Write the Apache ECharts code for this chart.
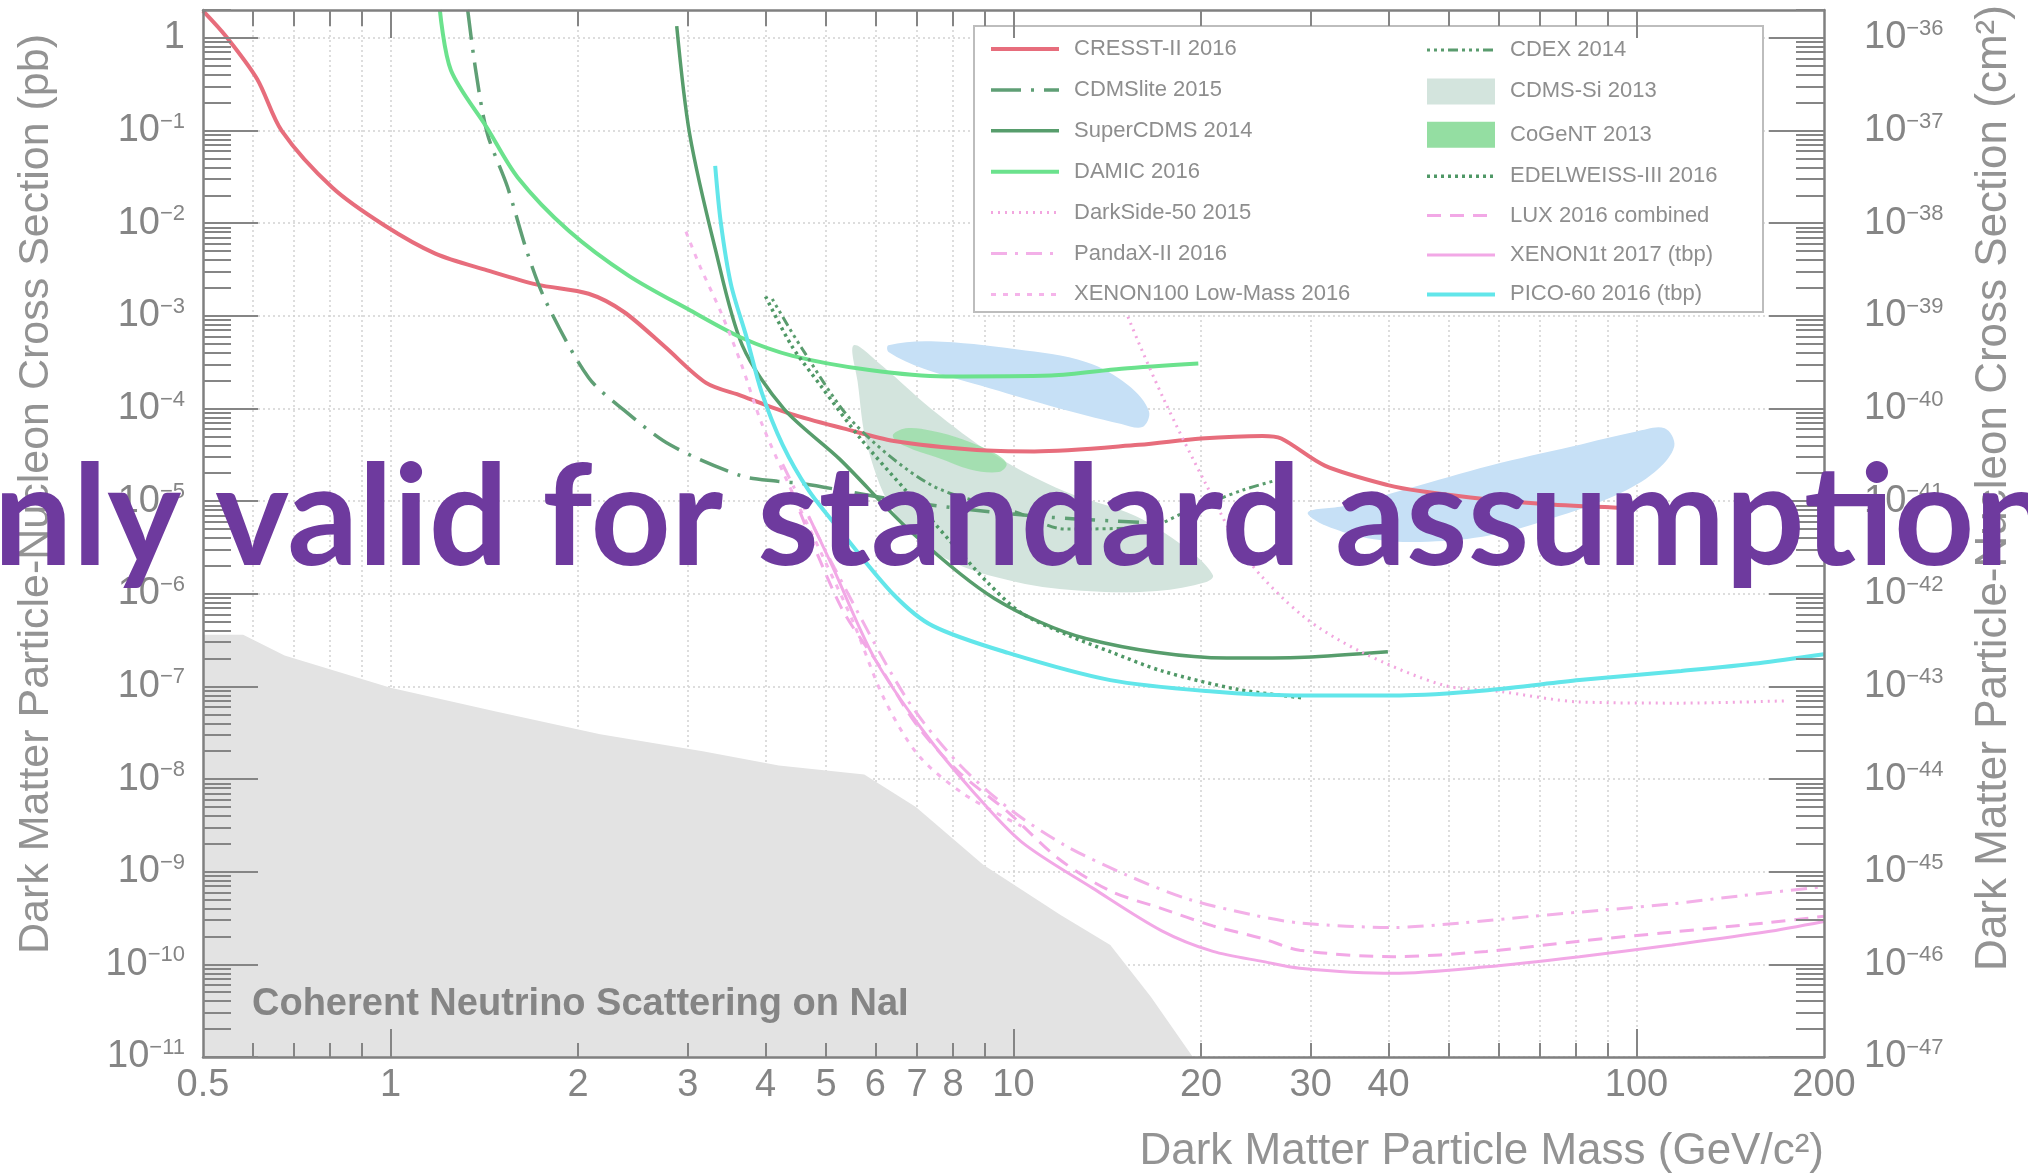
<!DOCTYPE html>
<html>
<head>
<meta charset="utf-8">
<title>Dark matter exclusion limits</title>
<script src="https://cdn.jsdelivr.net/npm/echarts@6.0.0/dist/echarts.min.js"></script>
<style>
  html, body { margin: 0; padding: 0; background: #fff; }
  #chart { width: 2028px; height: 1176px; }
</style>
</head>
<body>
<div id="chart"></div>
<script>
// ---- data: [mass (GeV/c^2), cross section (pb)] ----
const cresst2016 = [[0.5,1.96],[0.545,1.03],[0.611,0.358],[0.669,0.099],[0.807,0.0241],[0.977,0.0095],[1.18,0.0047],[1.43,0.0031],[1.72,0.00217],[2.08,0.00173],[2.37,0.0011],[2.76,4.6e-4],[3.21,1.89e-4],[3.66,1.37e-4],[4.4,8.7e-5],[5.33,6.1e-5],[6.43,4.45e-5],[8.73,3.56e-5],[10.8,3.44e-5],[15.9,4.05e-5],[20,4.74e-5],[25.1,5.06e-5],[26.9,4.74e-5],[31.6,2.42e-5],[39.9,1.49e-5],[45.5,1.27e-5],[57.5,1.05e-5],[73,9.2e-6],[98,8.4e-6]];
const cdmslite2015 = [[1.33,2.0],[1.37,0.448],[1.43,0.093],[1.54,0.0249],[1.66,0.00469],[1.78,0.00138],[2.08,2.15e-4],[2.37,9.6e-5],[2.81,4.05e-5],[3.66,1.87e-5],[4.18,1.64e-5],[4.6,1.54e-5],[7.0,9.5e-6],[10.8,6.9e-6],[15.9,5.9e-6]];
const superCdms2014 = [[2.88,1.34],[3.02,0.093],[3.32,0.00533],[3.67,4.8e-4],[4.28,9.9e-5],[5.26,2.84e-5],[6.84,4.7e-6],[9.33,8.85e-7],[13.1,3.27e-7],[22,2.02e-7],[29.3,2.07e-7],[39.9,2.37e-7]];
const damic2016 = [[1.2,2.0],[1.25,0.448],[1.43,0.106],[1.6,0.0312],[1.93,0.00835],[2.41,0.00272],[3.03,0.00114],[3.66,5.8e-4],[4.42,3.7e-4],[5.87,2.6e-4],[7.78,2.22e-4],[11.5,2.27e-4],[14.9,2.69e-4],[19.8,3.06e-4]];
const darkside2015 = [[14.8,0.0019],[15.3,9.4e-4],[17.4,1.29e-4],[20.4,1.49e-5],[23.7,2.4e-6],[29.1,5.8e-7],[36.1,2.37e-7],[49,1.03e-7],[60.5,8.8e-8],[81,6.8e-8],[118,6.6e-8],[175,7.0e-8]];
const pandax2016 = [[4.26,2.5e-5],[5.16,1.9e-6],[6.71,7.7e-8],[8.1,1.55e-8],[9.8,4.9e-9],[12.1,1.92e-9],[15.2,9.2e-10],[19.0,5.1e-10],[24.3,3.4e-10],[28.8,2.8e-10],[40.7,2.5e-10],[52.4,2.8e-10],[67.9,3.3e-10],[88.3,3.85e-10],[114,4.5e-10],[147,5.5e-10],[200,6.9e-10]];
const xenon100LowMass = [[2.98,0.0081],[3.14,0.0034],[3.39,0.0011],[3.66,2.96e-4],[3.94,7.0e-5],[4.4,1.31e-5],[4.94,2.55e-6],[5.54,4.8e-7],[6.19,7.5e-8],[7.04,1.8e-8],[8.32,6.9e-9],[10.3,3.1e-9]];
const cdex2014 = [[4.1,0.00152],[4.57,4.5e-4],[5.54,7.0e-5],[7.38,1.49e-5],[10.1,7.6e-6],[12.1,5.0e-6],[16.5,5.3e-6],[18.8,7.5e-6],[23.3,1.31e-5],[27,1.75e-5]];
const edelweiss2016 = [[4.0,0.00162],[4.4,4.8e-4],[4.92,1.71e-4],[5.68,4.74e-5],[6.71,1.31e-5],[7.93,3.64e-6],[9.11,1.3e-6],[10.3,6.2e-7],[12.2,3.6e-7],[14.3,2.37e-7],[17.3,1.47e-7],[22.9,9.3e-8],[29.3,7.5e-8]];
const lux2016 = [[4.4,1.31e-5],[5.28,7.3e-7],[6.13,1.56e-7],[7.0,3.8e-8],[8.16,1.2e-8],[9.8,4.4e-9],[11.8,1.39e-9],[14.3,6.2e-10],[17.3,4.0e-10],[20.9,2.6e-10],[25.1,1.9e-10],[28.8,1.42e-10],[40.7,1.21e-10],[57.4,1.38e-10],[81,1.78e-10],[114,2.23e-10],[161,2.8e-10],[200,3.3e-10]];
const xenon1t2017 = [[4.69,6.9e-6],[5.11,2.04e-6],[5.98,2.02e-7],[7.18,3.24e-8],[8.6,7.4e-9],[10.3,2.1e-9],[13.4,6.65e-10],[17.3,2.3e-10],[20.9,1.38e-10],[25.2,1.07e-10],[28.8,9.1e-11],[40.7,8.0e-11],[57.4,9.4e-11],[81,1.21e-10],[114,1.62e-10],[161,2.23e-10],[200,2.9e-10]];
const pico60 = [[3.32,0.0416],[3.39,0.0101],[3.52,0.00217],[3.73,5.8e-4],[3.94,1.51e-4],[4.26,4.05e-5],[4.69,1.31e-5],[5.33,4.4e-6],[6.43,9.7e-7],[7.42,4.5e-7],[9.8,2.3e-7],[14.3,1.17e-7],[20.9,8.8e-8],[28.2,8.0e-8],[41.7,8.0e-8],[57.7,9.1e-8],[81,1.17e-7],[118,1.47e-7],[157,1.78e-7],[200,2.22e-7]];

// closed regions (outline points)
const cdmsSi2013 = [[5.54,4.8e-4],[6.16,2.87e-4],[7.38,9.9e-5],[9.33,3.13e-5],[12.1,1.27e-5],[15.7,6.9e-6],[19.3,2.8e-6],[20.9,1.58e-6],[20.4,1.34e-6],[17.0,1.07e-6],[13.1,1.07e-6],[10.1,1.34e-6],[7.78,2.4e-6],[6.49,6.9e-6],[5.84,3.67e-5],[5.62,1.95e-4]];
const cogent2013 = [[6.4,5.06e-5],[6.71,6.1e-5],[7.38,5.75e-5],[8.32,4.6e-5],[9.38,3.23e-5],[9.75,2.5e-5],[9.47,2.06e-5],[8.52,2.2e-5],[7.56,2.93e-5],[6.71,3.9e-5]];
const damaNa = [[6.3,4.8e-4],[7.38,5.3e-4],[10.1,4.35e-4],[13.1,3.16e-4],[15.3,1.77e-4],[16.5,9.3e-5],[16.1,6.3e-5],[14.9,6.8e-5],[11.5,1.06e-4],[8.85,1.77e-4],[7.18,2.69e-4],[6.3,4.08e-4]];
const damaI = [[29.7,7.6e-6],[34.1,8.9e-6],[42.9,1.36e-5],[58.3,2.42e-5],[79.1,3.9e-5],[99.6,5.6e-5],[111,6.1e-5],[115,3.9e-5],[107,2.06e-5],[92.7,1.16e-5],[73,6.5e-6],[58.3,4.27e-6],[46.3,3.64e-6],[37.9,3.88e-6],[31.6,5.5e-6]];
// neutrino floor (upper edge)
const nuFloorNaI = [[0.5,3.6e-7],[0.58,3.6e-7],[0.676,2.15e-7],[1.0,9.7e-8],[1.47,5.4e-8],[2.17,3.04e-8],[3.17,2.0e-8],[4.2,1.4e-8],[5.76,1.12e-8],[6.97,5.0e-9],[8.94,1.19e-9],[11.9,3.4e-10],[14.3,1.62e-10],[16.6,4.5e-11],[19.4,1e-11]];

// ---- axes ----
const X_MIN = 0.5, X_MAX = 200;
const Y_MIN = 1e-11, Y_MAX = 2;      // pb
const PB_TO_CM2_EXP = -36;           // 1 pb = 1e-36 cm^2 (right axis)
const xLabels = [0.5, 1, 2, 3, 4, 5, 6, 7, 8, 10, 20, 30, 40, 100, 200];
const xMajorTicks = [1, 10, 100];
const xMinorTicks = [0.6, 0.7, 0.8, 0.9, 2, 3, 4, 5, 6, 7, 8, 9, 20, 30, 40, 50, 60, 70, 80, 90];
const xGrid = [0.6, 0.7, 0.8, 0.9, 1, 2, 3, 4, 5, 6, 7, 8, 9, 10, 20, 30, 40, 50, 60, 70, 80, 90, 100];

function decades(lo, hi) {
  const out = [];
  for (let k = lo; k <= hi; k++) out.push(Number('1e' + k));
  return out;
}
function minors(lo, hi, max) {
  const out = [];
  for (let k = lo; k <= hi; k++) {
    for (let j = 2; j <= 9; j++) {
      const v = Number(j + 'e' + k);
      if (v <= max * 1.0001) out.push(v);
    }
  }
  return out;
}
const yMajor = decades(-11, 0);
const yMinor = minors(-11, 0, Y_MAX);

const FONT = "'Liberation Sans', Arial, Helvetica, sans-serif";
const AXIS = '#858585';
const LABEL = '#858585';

function powText(k) {
  if (k === 0) return '1';
  return '10{sup|\u2212' + Math.abs(k) + '}';
}
const leftLabel = v => powText(Math.round(Math.log10(v)));
const rightLabel = v => powText(Math.round(Math.log10(v)) + PB_TO_CM2_EXP);
const labelRich = {
  sup: { fontSize: 22, fontFamily: FONT, color: LABEL, verticalAlign: 'top', lineHeight: 22 }
};

function logAxis(pos, min, max, extra) {
  return Object.assign({
    type: 'log', logBase: 10, position: pos, min: min, max: max,
    axisLine: { show: false }, axisTick: { show: false }, axisLabel: { show: false },
    splitLine: { show: false }, minorTick: { show: false }, minorSplitLine: { show: false },
    silent: true, z: 8
  }, extra);
}
function ticks(values, len) {
  return { show: true, inside: true, length: len, customValues: values, lineStyle: { color: AXIS, width: 2 } };
}
const frameLine = { show: true, onZero: false, lineStyle: { color: '#808080', width: 2.5 } };
const gridLine = { show: true, lineStyle: { color: '#d2d2d2', width: 1.5, type: [2, 3] } };

const xAxes = [
  logAxis('bottom', X_MIN, X_MAX, { axisTick: { show: false, customValues: xGrid }, splitLine: gridLine, z: 0 }),
  logAxis('bottom', X_MIN, X_MAX, {
    axisLine: frameLine, axisTick: ticks(xMajorTicks, 28),
    axisLabel: { show: true, customValues: xLabels, margin: 10, fontSize: 38, fontFamily: FONT, color: LABEL,
      formatter: v => String(Math.round(v * 10) / 10) }
  }),
  logAxis('bottom', X_MIN, X_MAX, { axisTick: ticks(xMinorTicks, 14) }),
  logAxis('top', X_MIN, X_MAX, { axisLine: frameLine, axisTick: ticks(xMajorTicks, 28) }),
  logAxis('top', X_MIN, X_MAX, { axisTick: ticks(xMinorTicks, 16) })
];
const yAxes = [
  logAxis('left', Y_MIN, Y_MAX, { axisTick: { show: false, customValues: yMajor }, splitLine: gridLine, z: 0 }),
  logAxis('left', Y_MIN, Y_MAX, {
    axisLine: frameLine, axisTick: ticks(yMajor, 55),
    axisLabel: { show: true, customValues: yMajor, margin: 18, fontSize: 38, fontFamily: FONT, color: LABEL,
      lineHeight: 40, formatter: leftLabel, rich: labelRich }
  }),
  logAxis('left', Y_MIN, Y_MAX, { axisTick: ticks(yMinor, 28) }),
  // right axis: same scale, labelled in cm^2
  logAxis('right', Y_MIN, Y_MAX, {
    axisLine: frameLine, axisTick: ticks(yMajor, 55),
    axisLabel: { show: true, customValues: yMajor, margin: 40, fontSize: 38, fontFamily: FONT, color: LABEL,
      lineHeight: 40, formatter: rightLabel, rich: labelRich }
  }),
  logAxis('right', Y_MIN, Y_MAX, { axisTick: ticks(yMinor, 28) })
];

// ---- series ----
function limitLine(name, data, color, width, type) {
  return {
    name: name, type: 'line', data: data, symbol: 'none', smooth: 0.3, z: 3, silent: true,
    lineStyle: { color: color, width: width, type: type || 'solid' },
    itemStyle: { color: color, opacity: 0 },   // no marker in the legend
    emphasis: { disabled: true }
  };
}
function region(name, pts, color, opacity) {
  return {
    name: name, type: 'custom', data: pts, z: 2, silent: true, clip: true,
    itemStyle: { color: color, opacity: opacity, borderWidth: 0 },
    renderItem: function (params, api) {
      if (params.dataIndex !== 0) return null;
      const points = pts.map(p => api.coord(p));
      return { type: 'polygon', shape: { points: points, smooth: 0.35 }, style: { fill: color, opacity: opacity } };
    }
  };
}

const series = [
  {
    name: 'Coherent Neutrino Scattering on NaI', type: 'line', data: nuFloorNaI, symbol: 'none', z: 1, silent: true,
    lineStyle: { width: 0 }, areaStyle: { color: '#e3e3e3', opacity: 1, origin: 'start' }, emphasis: { disabled: true }
  },
  region('CDMS-Si 2013', cdmsSi2013, '#d3e4dd', 1),
  region('DAMA/LIBRA (Na)', damaNa, '#c6e0f6', 1),
  region('DAMA/LIBRA (I)', damaI, '#c6e0f6', 1),
  region('CoGeNT 2013', cogent2013, '#94dea2', 0.75),
  limitLine('CRESST-II 2016', cresst2016, '#e76d7c', 4),
  limitLine('CDMSlite 2015', cdmslite2015, '#5f9f75', 3.5, [30, 10, 3, 10]),
  limitLine('SuperCDMS 2014', superCdms2014, '#579d6c', 3.5),
  limitLine('DAMIC 2016', damic2016, '#6be28d', 4),
  limitLine('DarkSide-50 2015', darkside2015, '#f2a6df', 3, [2, 5]),
  limitLine('PandaX-II 2016', pandax2016, '#f3b0e8', 3, [16, 8, 3, 8]),
  limitLine('XENON100 Low-Mass 2016', xenon100LowMass, '#f5b4ea', 3, [5, 7]),
  limitLine('CDEX 2014', cdex2014, '#5a9c6e', 3, [3, 4, 3, 4, 3, 4, 10, 4]),
  limitLine('EDELWEISS-III 2016', edelweiss2016, '#4f9866', 3.5, [3, 4]),
  limitLine('LUX 2016 combined', lux2016, '#f2a8e6', 3, [14, 9]),
  limitLine('XENON1t 2017 (tbp)', xenon1t2017, '#f2a8e6', 3),
  limitLine('PICO-60 2016 (tbp)', pico60, '#62e6ea', 4)
];

const legendBase = {
  orient: 'vertical', top: 38, padding: 0, itemWidth: 68, itemHeight: 26, itemGap: 18.9,
  selectedMode: false, z: 7,
  lineStyle: { width: 'inherit' },
  textStyle: { fontSize: 22, fontFamily: FONT, color: '#8e8e8e', padding: [0, 0, 0, 10] }
};
const rectItem = name => ({ name: name, icon: 'rect', itemStyle: { borderWidth: 0, opacity: 1 } });

const chart = echarts.init(document.getElementById('chart'), null, { renderer: 'canvas' });
chart.setOption({
  animation: false,
  backgroundColor: '#ffffff',
  grid: { left: 203, right: 204, top: 10, bottom: 119, containLabel: false, outerBoundsMode: 'none' },
  xAxis: xAxes,
  yAxis: yAxes,
  legend: [
    Object.assign({}, legendBase, { left: 989, data: ['CRESST-II 2016', 'CDMSlite 2015', 'SuperCDMS 2014', 'DAMIC 2016', 'DarkSide-50 2015', 'PandaX-II 2016', 'XENON100 Low-Mass 2016'] }),
    Object.assign({}, legendBase, { left: 1425, top: 39, itemGap: 17.4, data: ['CDEX 2014', rectItem('CDMS-Si 2013'), rectItem('CoGeNT 2013'), 'EDELWEISS-III 2016', 'LUX 2016 combined', 'XENON1t 2017 (tbp)', 'PICO-60 2016 (tbp)'] })
  ],
  graphic: [
    { type: 'rect', z: 6, silent: true, shape: { x: 974, y: 26, width: 789, height: 286 },
      style: { fill: '#ffffff', stroke: '#bdbdbd', lineWidth: 2 } },
    { type: 'text', z: 5, silent: true, x: 252, y: 1005,
      style: { text: 'Coherent Neutrino Scattering on NaI', fontFamily: FONT, fontWeight: 'bold', fontSize: 38, fill: '#858585', align: 'left', verticalAlign: 'middle' } },
    { type: 'text', z: 5, silent: true, x: 36, y: 494, rotation: Math.PI / 2,
      style: { text: 'Dark Matter Particle-Nucleon Cross Section (pb)', fontFamily: FONT, fontSize: 43, fill: '#939393', align: 'center', verticalAlign: 'middle' } },
    { type: 'text', z: 5, silent: true, x: 1994, y: 488, rotation: Math.PI / 2,
      style: { text: 'Dark Matter Particle-Nucleon Cross Section (cm\u00b2)', fontFamily: FONT, fontSize: 44, fill: '#939393', align: 'center', verticalAlign: 'middle' } },
    { type: 'text', z: 5, silent: true, x: 1824, y: 1152,
      style: { text: 'Dark Matter Particle Mass (GeV/c\u00b2)', fontFamily: FONT, fontSize: 44, fill: '#939393', align: 'right', verticalAlign: 'middle' } },
    { type: 'text', z: 50, silent: true, x: 1014, y: 520,
      style: { text: 'only valid for standard assumptions', fontFamily: 'Lato', fontWeight: 'bold', fontSize: 140, fill: '#6e3a9e', align: 'center', verticalAlign: 'middle' } }
  ],
  series: series
});
</script>
</body>
</html>
